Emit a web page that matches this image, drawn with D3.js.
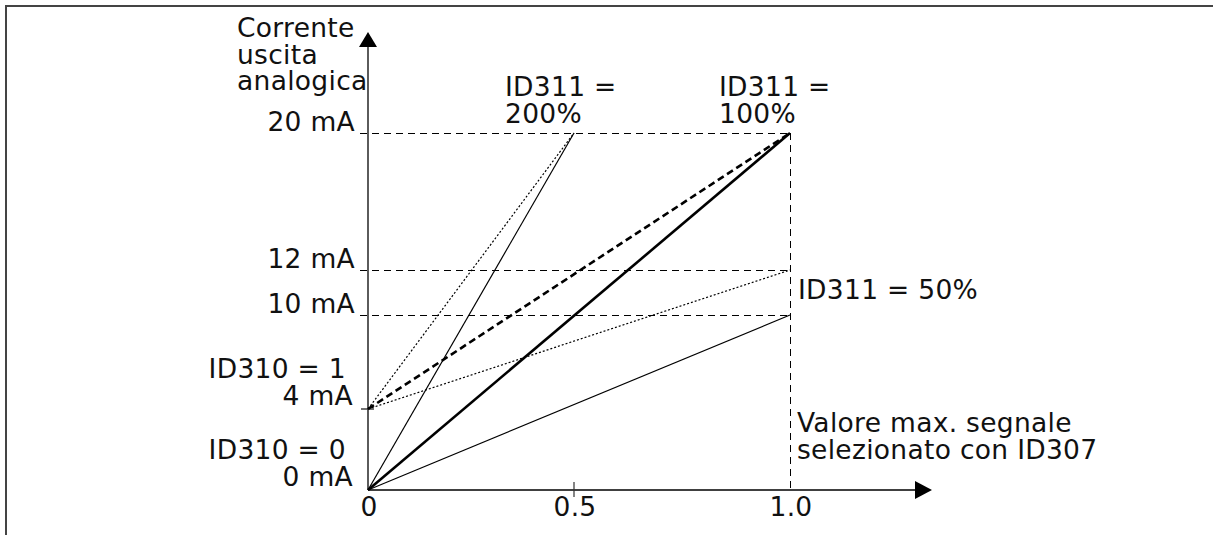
<!DOCTYPE html>
<html><head><meta charset="utf-8">
<script src="https://cdn.jsdelivr.net/npm/d3@7"></script>
<style>
html,body{margin:0;padding:0;background:#fff;}
svg text{font-family:"DejaVu Sans",Verdana,sans-serif;font-size:26.5px;fill:#111;letter-spacing:0.3px;}
</style></head>
<body><svg id="c" width="1213" height="535"></svg>
<script>
// ---- data ----
const xTicks = [0, 0.5, 1.0];
const xTickLabels = ["0", "0.5", "1.0"];
const yLevels = [20, 12, 10];            // dashed reference levels (mA)
const yLevelLabels = ["20 mA", "12 mA", "10 mA"];
const offsetLevels = [0, 4];             // ID310 = 0 / ID310 = 1
const offsetLabels = [["ID310 = 0", "0 mA"], ["ID310 = 1", "4 mA"]];
const gainNames = ["ID311 = 200%", "ID311 = 100%", "ID311 = 50%"];
// series: [start x, start mA, end x, end mA]
const seriesID310_0 = [[0, 0, 0.5, 20], [0, 0, 1.0, 20], [0, 0, 1.0, 10]];
const seriesID310_1 = [[0, 4, 0.5, 20], [0, 4, 1.0, 20], [0, 4, 1.0, 12]];
const yAxisTitle = ["Corrente", "uscita", "analogica"];
const xAxisNote = ["Valore max. segnale", "selezionato con ID307"];

// ---- scales (schematic, piecewise) ----
const x = d3.scaleLinear().domain([0, 0.5, 1.0]).range([368, 574, 790]);
const y = d3.scaleLinear().domain([0, 4, 10, 12, 20]).range([490, 409, 315, 270, 133]);

const svg = d3.select("#c");

// frame
svg.append("path").attr("d", "M6,535V6H1213").attr("fill", "none")
  .attr("stroke", "#444").attr("stroke-width", 2);

// dashed reference levels
svg.selectAll("line.lvl").data(yLevels).enter().append("line")
  .attr("x1", 360).attr("x2", x(1.0)).attr("y1", d => y(d) + 0.5).attr("y2", d => y(d) + 0.5)
  .attr("stroke", "#000").attr("stroke-width", 1).attr("stroke-dasharray", "7,5")
  .attr("shape-rendering", "crispEdges");
svg.append("line").attr("x1", x(1.0) + 0.5).attr("x2", x(1.0) + 0.5).attr("y1", y(20)).attr("y2", y(0))
  .attr("stroke", "#000").attr("stroke-width", 1).attr("stroke-dasharray", "7,5")
  .attr("shape-rendering", "crispEdges");

// axes
const axisColor = "#333";
svg.append("line").attr("x1", x(0)).attr("x2", x(0)).attr("y1", y(0)).attr("y2", 46)
  .attr("stroke", axisColor).attr("stroke-width", 1.6);
svg.append("path").attr("d", `M${x(0)},32L${x(0)-9},47L${x(0)+9},47Z`).attr("fill", "#000");
svg.append("line").attr("x1", x(0)).attr("x2", 916).attr("y1", y(0)).attr("y2", y(0))
  .attr("stroke", "#000").attr("stroke-width", 1.6);
svg.append("path").attr("d", `M932,${y(0)}L915,${y(0)-9}L915,${y(0)+9}Z`).attr("fill", "#000");
// ticks
svg.append("line").attr("x1", x(0.5)).attr("x2", x(0.5)).attr("y1", y(0) - 8).attr("y2", y(0) + 7)
  .attr("stroke", axisColor).attr("stroke-width", 1.2);
svg.append("line").attr("x1", 361).attr("x2", 374).attr("y1", y(4)).attr("y2", y(4))
  .attr("stroke", axisColor).attr("stroke-width", 1.4);

// series lines
const styles0 = [{w: 1.2, dash: null}, {w: 2.6, dash: null}, {w: 1.2, dash: null}];
const styles1 = [{w: 1.2, dash: "2,2"}, {w: 2.6, dash: "7,4"}, {w: 1.2, dash: "2,2"}];
function drawSeries(data, styles) {
  svg.selectAll(null).data(data).enter().append("line")
    .attr("x1", d => x(d[0])).attr("y1", d => y(d[1]))
    .attr("x2", d => x(d[2])).attr("y2", d => y(d[3]))
    .attr("stroke", "#000")
    .attr("stroke-width", (d, i) => styles[i].w)
    .attr("stroke-dasharray", (d, i) => styles[i].dash);
}
drawSeries(seriesID310_1, styles1);
drawSeries(seriesID310_0, styles0);

// texts
const lh = 26.7;
const t1 = svg.append("text");
yAxisTitle.forEach((s, i) => t1.append("tspan").attr("x", 237).attr("y", 37 + i * lh).text(s));

svg.selectAll("text.yl").data(yLevels).enter().append("text")
  .attr("x", 355).attr("y", d => y(d) - 2.5).attr("text-anchor", "end")
  .text((d, i) => yLevelLabels[i]);

offsetLevels.forEach((v, i) => {
  svg.append("text").attr("x", 346).attr("y", y(v) - 31).attr("text-anchor", "end").text(offsetLabels[i][0]);
  svg.append("text").attr("x", 353).attr("y", y(v) - 4).attr("text-anchor", "end").text(offsetLabels[i][1]);
});

svg.selectAll("text.xl").data(xTicks).enter().append("text")
  .attr("x", d => x(d) + 1).attr("y", 516).attr("text-anchor", "middle")
  .text((d, i) => xTickLabels[i]);

// gain labels
function twoLine(lines, x0, y0) {
  const t = svg.append("text");
  lines.forEach((s, i) => t.append("tspan").attr("x", x0).attr("y", y0 + i * lh).text(s));
}
twoLine([gainNames[0].replace(" 200%", ""), "200%"], 505, 96);
twoLine([gainNames[1].replace(" 100%", ""), "100%"], 719, 96);
svg.append("text").attr("x", 798).attr("y", 299).text(gainNames[2]);
twoLine(xAxisNote, 797, 432);
</script></body></html>
